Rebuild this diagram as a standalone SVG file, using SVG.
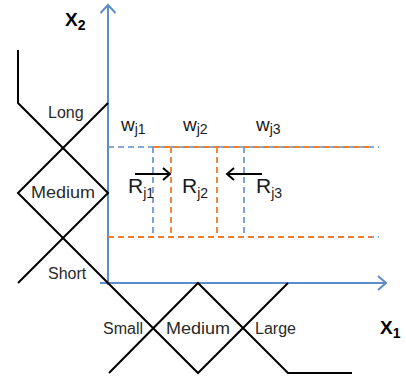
<svg xmlns="http://www.w3.org/2000/svg" width="406" height="376" viewBox="0 0 406 376">
<defs>
<style>
.axis{stroke:#5B8DC9;stroke-width:2;fill:none}
.mf{stroke:#000;stroke-width:2;fill:none;stroke-linejoin:miter}
.db{stroke:#5B8DC9;stroke-width:1.6;stroke-dasharray:6 4;fill:none}
.do{stroke:#ED7D31;stroke-width:1.8;stroke-dasharray:6 4;fill:none}
.arr{stroke:#000;stroke-width:2;fill:none}
.lbl{font-family:"Liberation Sans",Arial,sans-serif;font-size:16px;fill:#2a2a2a}
.big{font-family:"Liberation Sans",Arial,sans-serif;font-size:19px;fill:#1a1a1a}
.bigR{font-family:"Liberation Sans",Arial,sans-serif;font-size:21px;fill:#1a1a1a}
.sub{font-size:14px}
.ax{font-family:"Liberation Sans",Arial,sans-serif;font-size:19px;font-weight:bold;fill:#000}
</style>
</defs>
<g id="axes">
<path class="axis" d="M108,285 V5 M100.5,13 L108,5 L115.5,13"/>
<path class="axis" d="M100,283 H386 M378,276 L386,283 L378,290"/>
</g>
<g id="membership">
<path class="mf" d="M18,50 V103 L108,193 L18,283"/>
<path class="mf" d="M108,103 L18,193 L198,373 L288,283"/>
<path class="mf" d="M109,373 L198,283 L288,373 H352"/>
</g>
<g id="region">
<path class="db" d="M108,147 H379 M108,237 H379 M153,147 V237 M244,147 V237"/>
<path class="do" d="M153,147 H372 M108,237 H372 M171,147 V237 M217,147 V237"/>
</g>
<g id="connectors">
<path class="arr" d="M135,174 H170 M163,168 L170,174 L163,180"/>
<path class="arr" d="M262,174 H227 M234,168 L227,174 L234,180"/>
</g>
<g id="labels">
<text class="ax" x="65" y="26">X<tspan dy="4" font-size="14">2</tspan></text>
<text class="ax" x="380" y="334">X<tspan dy="4" font-size="14">1</tspan></text>
<text class="lbl" x="48" y="118">Long</text>
<text class="lbl" x="31" y="198" textLength="64" lengthAdjust="spacingAndGlyphs">Medium</text>
<text class="lbl" x="48" y="279">Short</text>
<text class="lbl" x="103" y="334">Small</text>
<text class="lbl" x="166" y="334" textLength="64" lengthAdjust="spacingAndGlyphs">Medium</text>
<text class="lbl" x="255" y="334">Large</text>
<text class="big" x="121" y="131">w<tspan class="sub" dy="3">j1</tspan></text>
<text class="big" x="183" y="131">w<tspan class="sub" dy="3">j2</tspan></text>
<text class="big" x="256" y="131">w<tspan class="sub" dy="3">j3</tspan></text>
<text class="bigR" x="128" y="193">R<tspan class="sub" dy="5">j1</tspan></text>
<text class="bigR" x="182" y="193">R<tspan class="sub" dy="5">j2</tspan></text>
<text class="bigR" x="256" y="193">R<tspan class="sub" dy="5">j3</tspan></text>
</g>
</svg>
